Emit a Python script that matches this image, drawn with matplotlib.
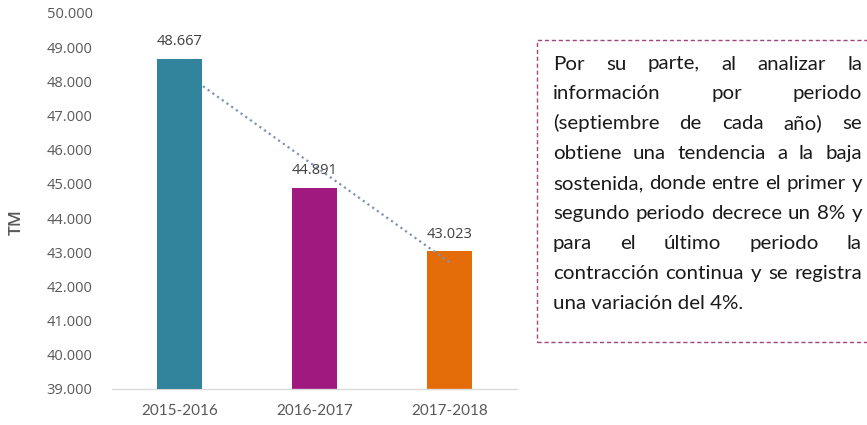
import numpy as np
import matplotlib
matplotlib.use("Agg")
import matplotlib.pyplot as plt
from matplotlib.patches import Rectangle
from matplotlib.font_manager import FontProperties
from matplotlib.ticker import FuncFormatter

# ---- data ----
categories = ["2015-2016", "2016-2017", "2017-2018"]
values = [48667, 44891, 43023]
bar_colors = ["#31849B", "#A0197F", "#E36C09"]
y_ticks = list(range(39000, 50001, 1000))
y_label = "TM"
paragraph_lines = [
    "Por su parte, al analizar la",
    "información por periodo",
    "(septiembre de cada año) se",
    "obtiene una tendencia a la baja",
    "sostenida, donde entre el primer y",
    "segundo periodo decrece un 8% y",
    "para el último periodo la",
    "contracción continua y se registra",
    "una variación del 4%.",
]

W, H = 867, 425
fig = plt.figure(figsize=(W / 100, H / 100), dpi=100)
ax = fig.add_axes([112 / W, 1 - 389 / H, (517 - 112) / W, (389 - 13) / H])

x = np.arange(len(categories))
# first bar drawn above the trendline, the others below it
for i, (xi, v, c) in enumerate(zip(x, values, bar_colors)):
    ax.bar(xi, v, width=0.33, color=c, zorder=4 if i == 0 else 2)

# linear trendline
coef = np.polyfit(x, values, 1)
ax.plot(x, np.polyval(coef, x), linestyle=(0, (1, 1.6)), color="#7F93B8",
        lw=1.6, zorder=3)

def fmt(v):
    return f"{v:,.0f}".replace(",", ".")

tick_font = dict(family="Open Sans", size=10.5)
for xi, v in zip(x, values):
    ax.annotate(fmt(v), (xi, v), xytext=(0, 7), textcoords="offset points",
                ha="center", va="bottom", color="#404040", zorder=5, **tick_font)

ax.set_xlim(-0.5, 2.5)
ax.set_ylim(39000, 50000)
ax.set_yticks(y_ticks)
ax.yaxis.set_major_formatter(FuncFormatter(lambda v, p: fmt(v)))
ax.set_xticks(x)
ax.set_xticklabels(categories, family="Lato", size=11, color="#595959")
for lab in ax.get_yticklabels():
    lab.set_family("Open Sans")
    lab.set_size(10.5)
    lab.set_color("#595959")
ax.tick_params(axis="y", length=0, pad=14)
ax.tick_params(axis="x", length=0, pad=11)
for s in ["top", "right", "left"]:
    ax.spines[s].set_visible(False)
ax.spines["bottom"].set_color("#D9D9D9")
ax.spines["bottom"].set_linewidth(1.0)

fig.text(17 / W, 1 - 222 / H, y_label, family="Open Sans", size=12.5,
         weight="semibold", color="#595959", rotation=90, ha="center", va="center")

# ---- text box ----
box = Rectangle((537 / W, 1 - 342 / H), (875 - 537) / W, (342 - 40) / H,
                transform=fig.transFigure, fill=False, edgecolor="#A0457E",
                lw=1.0, linestyle=(0, (3, 2)), clip_on=False)
fig.add_artist(box)

fig.canvas.draw()
r = fig.canvas.get_renderer()

def text_width(s, fp):
    t = fig.text(0, 0, s, fontproperties=fp)
    w = t.get_window_extent(r).width
    t.remove()
    return w

left_px, right_px = 553, 862
target = right_px - left_px
fp = FontProperties(family="Lato", size=14)
nat = text_width(paragraph_lines[4], fp)
size = 14 * (target - 2) / nat
fp = FontProperties(family="Lato", size=size)

base0 = 69.5
step = 29.9
for i, line in enumerate(paragraph_lines):
    yb = 1 - (base0 + step * i) / H
    words = line.split(" ")
    if i == len(paragraph_lines) - 1 or len(words) == 1:
        fig.text(left_px / W, yb, line, fontproperties=fp, color="#1A1A1A",
                 va="baseline", ha="left")
        continue
    widths = [text_width(w_, fp) for w_ in words]
    gap = (target - sum(widths)) / (len(words) - 1)
    xpos = left_px
    for w_, wd in zip(words, widths):
        fig.text(xpos / W, yb, w_, fontproperties=fp, color="#1A1A1A",
                 va="baseline", ha="left")
        xpos += wd + gap

fig.savefig("out.png", dpi=100)
